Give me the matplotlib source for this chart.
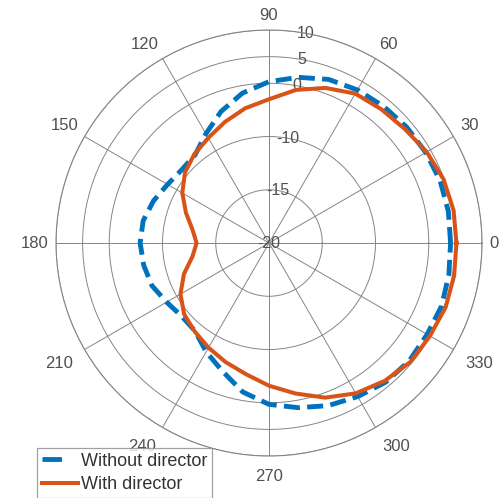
import numpy as np
import matplotlib
matplotlib.use("Agg")
import matplotlib.pyplot as plt
from matplotlib.lines import Line2D

plt.rcParams["font.family"] = ["Liberation Sans", "DejaVu Sans"]
plt.rcParams["axes.unicode_minus"] = False

# Radiation pattern, gain in dB sampled every 10 degrees
angles_deg = list(range(0, 361, 10))
gain_without = [4.1, 4.2, 4.2, 4.0, 3.8, 3.5, 3.2, 2.7, 1.6, 0.3,
                -1.4, -3.7, -6.3, -8.4, -8.6, -8.0, -6.9, -6.0, -5.8,
                -6.1, -6.6, -7.8, -8.6, -8.4, -6.4, -4.4, -1.6, 0.3,
                1.4, 2.5, 3.3, 4.1, 4.4, 4.3, 4.5, 4.3, 4.1]
gain_with = [5.2, 5.2, 4.9, 4.2, 3.3, 2.8, 2.4, 1.0, -0.8, -3.0,
             -4.3, -5.8, -7.2, -8.2, -9.4, -10.6, -11.7, -12.7, -13.2,
             -12.7, -11.5, -10.4, -9.2, -8.3, -7.3, -6.2, -5.0, -3.2,
             -1.3, 0.9, 2.6, 3.8, 4.7, 4.9, 5.3, 5.3, 5.2]
series_labels = ["Without director", "With director"]
r_ticks = [-20, -15, -10, 0, 5, 10]
theta_ticks = list(range(0, 360, 30))

BLUE = "#0072BD"
RED = "#D95319"
GRID = "#858585"
TEXT = "#505050"


# Radial axis: -20..-10 takes the inner half, -10..10 the outer half
def r_forward(r):
    r = np.asarray(r, dtype=float)
    return np.where(r < -10, (r + 20) / 20.0, 0.5 + (r + 10) / 40.0)


def r_inverse(p):
    p = np.asarray(p, dtype=float)
    return np.where(p < 0.5, p * 20.0 - 20.0, (p - 0.5) * 40.0 - 10.0)


fig = plt.figure(figsize=(5.03, 4.98), dpi=100)
ax = fig.add_axes([0.1113, 0.0843, 0.847, 0.8554], projection="polar")
ax.set_rscale("function", functions=(r_forward, r_inverse))
ax.set_rlim(-20, 10)

theta = np.deg2rad(angles_deg)
ax.plot(theta, gain_without, color=BLUE, lw=3.5, linestyle=(0, (3.3, 1.5)),
        zorder=3)
ax.plot(theta, gain_with, color=RED, lw=2.9, zorder=4)

ax.set_thetagrids(theta_ticks, [str(t) for t in theta_ticks])
ax.set_rticks(r_ticks)
ax.set_yticklabels([str(t) for t in r_ticks])
ax.set_rlabel_position(80)
ax.grid(True, color=GRID, lw=0.7)
ax.spines["polar"].set_color(GRID)
ax.spines["polar"].set_linewidth(0.8)
ax.tick_params(axis="x", labelsize=12, colors=TEXT, pad=-5.2)
ax.tick_params(axis="y", labelsize=11.5, colors=TEXT, pad=0)
for lbl in ax.get_yticklabels():
    lbl.set_horizontalalignment("center")
    lbl.set_verticalalignment("center")

# anchor each angle label by the corner that faces the circle
for tick, ang in zip(ax.xaxis.get_major_ticks(), theta_ticks):
    c, s = np.cos(np.deg2rad(ang)), np.sin(np.deg2rad(ang))
    ha = "left" if c > 0.1 else ("right" if c < -0.1 else "center")
    va = "bottom" if s > 0.1 else ("top" if s < -0.1 else "center")
    tick.label1.set_horizontalalignment(ha)
    tick.label1.set_verticalalignment(va)
    if s < -0.1:
        tick.set_pad(-0.9)

handles = [
    Line2D([], [], color=BLUE, lw=3.5, linestyle=(0, (4.0, 20.0))),
    Line2D([], [], color=RED, lw=2.9),
]
leg = fig.legend(handles, series_labels, loc="upper left",
                 bbox_to_anchor=(0.074, 0.1004), bbox_transform=fig.transFigure,
                 fontsize=13, frameon=True, fancybox=False, borderpad=0.25,
                 handlelength=2.0, handletextpad=0.2, labelspacing=0.37,
                 borderaxespad=0)
leg.get_frame().set_edgecolor("#8a8a8a")
leg.get_frame().set_linewidth(0.9)
for t in leg.get_texts():
    t.set_color("#333333")

fig.savefig("out.png", dpi=100)
